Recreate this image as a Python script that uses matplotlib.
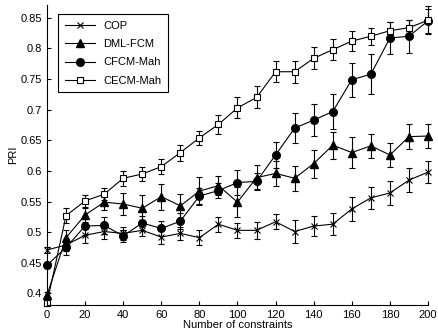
import numpy as np
import matplotlib
matplotlib.use('Agg')
from matplotlib import pyplot as plt

plt.rcParams['font.family'] = ['Liberation Sans', 'DejaVu Sans']

x = np.arange(0, 201, 10)

cop = [0.471, 0.479, 0.495, 0.501, 0.498, 0.503, 0.492, 0.498, 0.491, 0.513, 0.503,
       0.503, 0.517, 0.501, 0.510, 0.513, 0.538, 0.556, 0.564, 0.585, 0.598]
cop_err = [0.005, 0.010, 0.013, 0.012, 0.010, 0.010, 0.012, 0.010, 0.012, 0.012, 0.012,
           0.014, 0.012, 0.019, 0.016, 0.018, 0.019, 0.018, 0.020, 0.019, 0.018]

dml = [0.397, 0.491, 0.528, 0.549, 0.546, 0.539, 0.558, 0.543, 0.567, 0.576, 0.549,
       0.589, 0.596, 0.588, 0.612, 0.642, 0.630, 0.641, 0.626, 0.656, 0.657]
dml_err = [0.005, 0.012, 0.012, 0.012, 0.018, 0.022, 0.021, 0.020, 0.023, 0.015, 0.024,
           0.020, 0.020, 0.020, 0.023, 0.022, 0.025, 0.020, 0.020, 0.020, 0.020]

cfcm = [0.446, 0.475, 0.510, 0.511, 0.494, 0.515, 0.506, 0.518, 0.559, 0.568, 0.581,
        0.583, 0.626, 0.670, 0.683, 0.697, 0.749, 0.758, 0.817, 0.820, 0.845]
cfcm_err = [0.005, 0.012, 0.015, 0.014, 0.010, 0.012, 0.013, 0.013, 0.013, 0.013, 0.020,
            0.013, 0.022, 0.025, 0.026, 0.028, 0.028, 0.033, 0.026, 0.027, 0.020]

cecm = [0.384, 0.527, 0.551, 0.562, 0.588, 0.595, 0.607, 0.630, 0.654, 0.676, 0.703,
        0.720, 0.762, 0.762, 0.784, 0.798, 0.812, 0.820, 0.829, 0.834, 0.846]
cecm_err = [0.004, 0.012, 0.010, 0.010, 0.012, 0.011, 0.012, 0.013, 0.012, 0.015, 0.017,
            0.018, 0.017, 0.018, 0.018, 0.017, 0.016, 0.014, 0.014, 0.012, 0.023]

fig = plt.figure(figsize=(4.39, 3.33), dpi=100)
ax = fig.add_axes([0.107, 0.084, 0.868, 0.901])

series = [
    (cop, cop_err, dict(marker='x', ms=4, mew=0.8), 'COP'),
    (dml, dml_err, dict(marker='^', ms=5.5, mfc='k'), 'DML-FCM'),
    (cfcm, cfcm_err, dict(marker='o', ms=5.5, mfc='k'), 'CFCM-Mah'),
    (cecm, cecm_err, dict(marker='s', ms=4.8, mfc='w', mew=0.8), 'CECM-Mah'),
]
for y, err, style, name in series:
    ax.errorbar(x, y, yerr=err, fmt='none', ecolor='k', elinewidth=0.8,
                capsize=2.5, capthick=0.8, clip_on=False)
    ax.plot(x, y, color='k', lw=0.8, mec='k', label=name, clip_on=False, **style)

ax.set_xlim(0, 200)
ax.set_ylim(0.381, 0.871)
ax.set_xticks(np.arange(0, 201, 20))
ax.set_yticks([0.4, 0.45, 0.5, 0.55, 0.6, 0.65, 0.7, 0.75, 0.8, 0.85])
ax.set_yticklabels(['0.4', '0.45', '0.5', '0.55', '0.6', '0.65', '0.7', '0.75', '0.8', '0.85'])
ax.tick_params(direction='in', labelsize=8, length=3, width=0.8)
ax.spines['top'].set_visible(False)
ax.spines['right'].set_visible(False)
ax.set_xlabel('Number of constraints', fontsize=8, labelpad=0)
ax.set_ylabel('PRI', fontsize=8, labelpad=2)

leg = ax.legend(loc='upper left', bbox_to_anchor=(0.014, 0.988), fontsize=8, fancybox=False,
                edgecolor='k', framealpha=1, handlelength=2.7, borderpad=0.6, labelspacing=0.75)
leg.get_frame().set_linewidth(0.8)

fig.savefig('out.png', dpi=100)
